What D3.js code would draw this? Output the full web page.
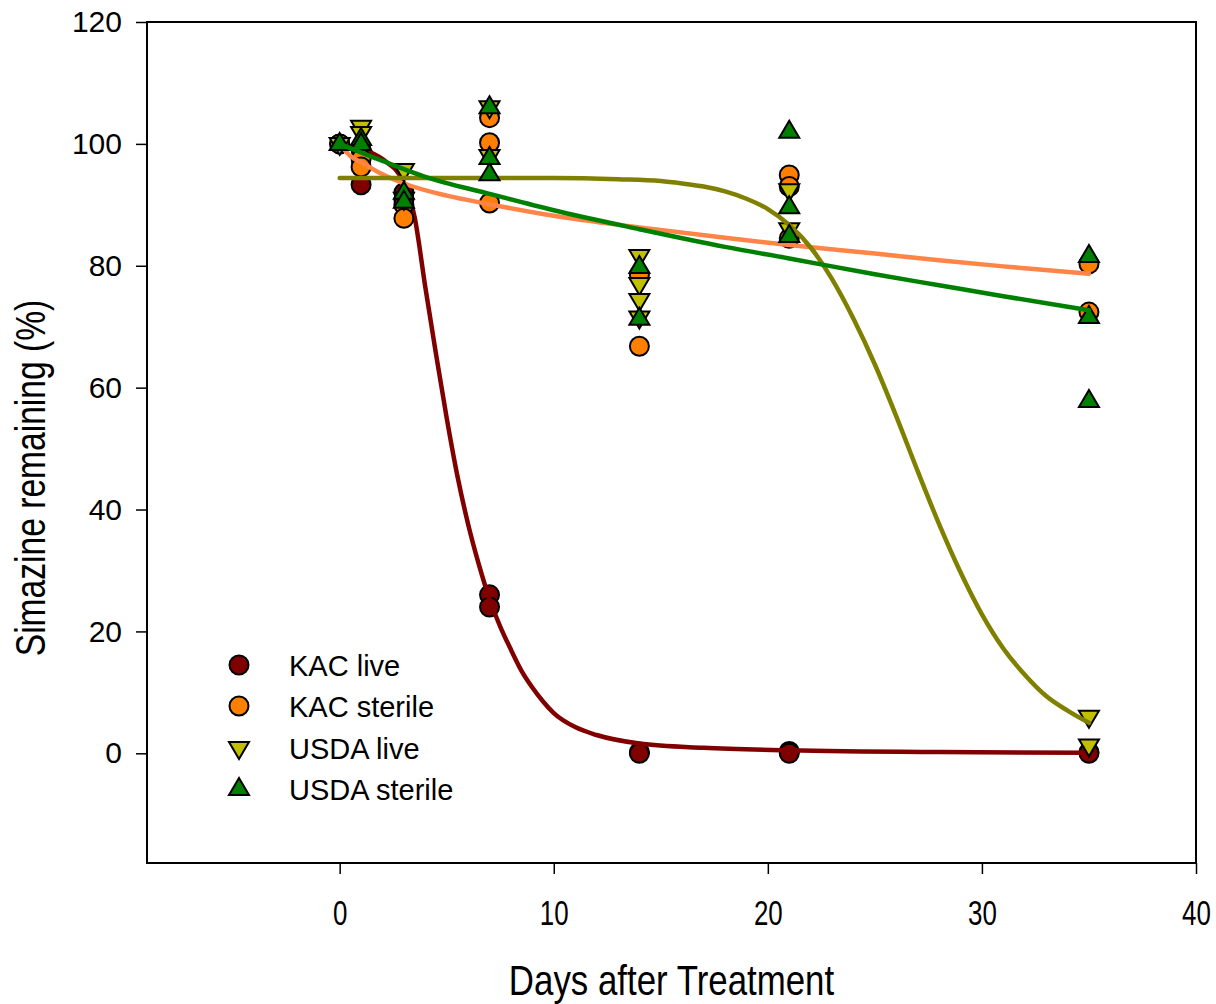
<!DOCTYPE html>
<html>
<head>
<meta charset="utf-8">
<script src="https://cdn.jsdelivr.net/npm/d3@7"></script>
<style>
  body { margin: 0; background: #fff; }
  text { font-family: 'Liberation Sans', Arial, sans-serif; fill: #000; }
</style>
</head>
<body>
<div id="chart"></div>
<script>
const kacLiveDays = [0, 1, 1, 3, 3, 7, 7, 14, 14, 21, 21, 35, 35];
const kacLiveValues = [100, 99, 93.3, 92, 90.8, 26, 24, 0.2, 0, 0.3, 0, 0.2, 0];

const kacSterileDays = [0, 1, 1, 3, 3, 7, 7, 7, 14, 14, 21, 21, 21, 35, 35];
const kacSterileValues = [100, 97.5, 96.2, 90, 87.8, 104.3, 100.2, 90.3, 78.5, 66.8, 94.9, 93, 84.5, 80.3, 72.4];

const usdaLiveDays = [0, 1, 1, 3, 3, 7, 7, 14, 14, 14, 14, 21, 21, 35, 35];
const usdaLiveValues = [100, 102.8, 101.8, 95.7, 91, 106, 98, 81.6, 77, 74.4, 71.5, 92.4, 86, 6, 1.3];

const usdaSterileDays = [0, 1, 1, 3, 3, 7, 7, 7, 14, 14, 21, 21, 21, 35, 35, 35];
const usdaSterileValues = [100, 100.8, 100, 92, 90.5, 106, 97.7, 95, 79.8, 71.3, 102, 89.6, 84.9, 81.6, 71.6, 57.8];

// fitted curves at these days
const kacLiveFitDays = [0, 1, 2, 3, 3.5, 4, 4.5, 5, 5.5, 6, 6.5, 7, 7.5, 8, 8.5, 9, 9.5, 10, 11, 12, 14, 17, 21, 28, 35];
const kacLiveFitValues = [100, 99.2, 97.5, 93.6, 88, 76.5, 65.5, 55, 45.5, 37.6, 31, 25.3, 20.8, 17, 13.5, 10.8, 8.5, 6.6, 4.3, 3.0, 1.6, 0.9, 0.5, 0.2, 0.1];

const kacSterileFitDays = [0, 0.5, 1, 2, 3, 5, 7, 10, 14, 18, 21, 25, 28, 31, 35];
const kacSterileFitValues = [100, 98, 97, 95, 93.5, 91.5, 90.1, 88.2, 86.3, 84.6, 83.4, 82, 80.9, 79.9, 78.7];

const usdaLiveFitDays = [0, 5, 10, 13, 15, 16, 17, 18, 19, 20, 21, 22, 23, 24, 25, 26, 27, 28, 29, 30, 31, 32, 33, 34, 35];
const usdaLiveFitValues = [94.4, 94.4, 94.4, 94.2, 93.9, 93.5, 93, 92.2, 91, 89.3, 86.7, 83, 77.8, 71.3, 63.8, 55.3, 46.3, 37.6, 29.7, 22.8, 17.2, 12.9, 9.4, 7, 5];

const usdaSterileFitDays = [0, 2, 4, 7, 10, 14, 18, 21, 25, 28, 31, 35];
const usdaSterileFitValues = [100, 97.2, 94.6, 91.8, 89.1, 86, 83.1, 81.2, 78.6, 76.8, 75, 72.7];

const seriesNames = ['KAC live', 'KAC sterile', 'USDA live', 'USDA sterile'];
const xTicks = [0, 10, 20, 30, 40];
const yTicks = [0, 20, 40, 60, 80, 100, 120];

const width = 1216;
const height = 1004;
const margin = { top: 22, right: 20, bottom: 141, left: 147 };

const up = 'M0,-11L10,6L-10,6Z';
const down = 'M0,11L10,-6L-10,-6Z';

const series = [
  { name: seriesNames[0], days: kacLiveDays, values: kacLiveValues, fitDays: kacLiveFitDays, fitValues: kacLiveFitValues, fill: '#800000', line: '#800000', shape: 'circle' },
  { name: seriesNames[1], days: kacSterileDays, values: kacSterileValues, fitDays: kacSterileFitDays, fitValues: kacSterileFitValues, fill: '#ff8000', line: '#ff8448', shape: 'circle' },
  { name: seriesNames[2], days: usdaLiveDays, values: usdaLiveValues, fitDays: usdaLiveFitDays, fitValues: usdaLiveFitValues, fill: '#c0c000', line: '#808000', shape: down },
  { name: seriesNames[3], days: usdaSterileDays, values: usdaSterileValues, fitDays: usdaSterileFitDays, fitValues: usdaSterileFitValues, fill: '#008000', line: '#008000', shape: up },
];

const svg = d3.select('#chart').append('svg')
  .attr('width', width)
  .attr('height', height);

const x = d3.scaleLinear()
  .domain([-9, 40])
  .range([margin.left, width - margin.right]);

const y = d3.scaleLinear()
  .domain([-18, 120])
  .range([height - margin.bottom, margin.top]);

// axes
const yAxis = svg.append('g')
  .attr('transform', `translate(${margin.left},0)`)
  .call(d3.axisLeft(y).tickValues(yTicks).tickSize(11).tickPadding(14));
yAxis.select('.domain').remove();
yAxis.selectAll('line').attr('stroke', '#000').attr('stroke-width', 1.5);
yAxis.selectAll('text')
  .style('font-size', '30px')
  .style('font-family', "'Liberation Sans', Arial, sans-serif")
  .attr('fill', '#000');

const xAxis = svg.append('g')
  .attr('transform', `translate(0,${height - margin.bottom})`)
  .call(d3.axisBottom(x).tickValues(xTicks).tickSize(11).tickPadding(25));
xAxis.select('.domain').remove();
xAxis.selectAll('line').attr('stroke', '#000').attr('stroke-width', 1.5);
xAxis.selectAll('text')
  .style('font-size', '36px')
  .style('font-family', "'Liberation Sans', Arial, sans-serif")
  .attr('fill', '#000')
  .attr('transform', 'scale(0.72,1)');

// frame
svg.append('rect')
  .attr('x', x(-9))
  .attr('y', y(120))
  .attr('width', x(40) - x(-9))
  .attr('height', y(-18) - y(120))
  .attr('fill', 'none')
  .attr('stroke', '#000')
  .attr('stroke-width', 2);

// titles
svg.append('text')
  .attr('transform', `translate(${(x(-9) + x(40)) / 2},995) scale(0.83,1)`)
  .attr('text-anchor', 'middle')
  .style('font-size', '42px')
  .text('Days after Treatment');

svg.append('text')
  .attr('transform', 'translate(45,478) rotate(-90) scale(0.8,1)')
  .attr('text-anchor', 'middle')
  .style('font-size', '42px')
  .text('Simazine remaining (%)');

// points then fitted curve, one series at a time
const line = d3.line()
  .x(d => x(d[0]))
  .y(d => y(d[1]))
  .curve(d3.curveMonotoneX);

function drawMarker(sel, s) {
  if (s.shape === 'circle') {
    sel.append('circle').attr('r', 9.5);
  } else {
    sel.append('path').attr('d', s.shape);
  }
  sel.selectAll('circle, path')
    .attr('fill', s.fill)
    .attr('stroke', '#000')
    .attr('stroke-width', 2)
    .attr('stroke-linejoin', 'miter');
}

series.forEach(s => {
  const pts = s.days.map((d, i) => [d, s.values[i]]);
  svg.append('g')
    .selectAll('g')
    .data(pts)
    .enter().append('g')
      .attr('transform', d => `translate(${x(d[0])},${y(d[1])})`)
      .each(function () { drawMarker(d3.select(this), s); });

  const fit = s.fitDays.map((d, i) => [d, s.fitValues[i]]);
  svg.append('path')
    .datum(fit)
    .attr('d', line)
    .attr('fill', 'none')
    .attr('stroke', s.line)
    .attr('stroke-width', 4.5)
    .attr('stroke-linecap', 'round');
});

// legend
const legendRows = [665, 706, 748, 789];
const legend = svg.append('g');
series.forEach((s, i) => {
  const row = legend.append('g')
    .attr('transform', `translate(239,${legendRows[i]})`);
  drawMarker(row, s);
  row.append('text')
    .attr('x', 50)
    .attr('y', 11)
    .style('font-size', '29px')
    .text(s.name);
});
</script>
</body>
</html>
